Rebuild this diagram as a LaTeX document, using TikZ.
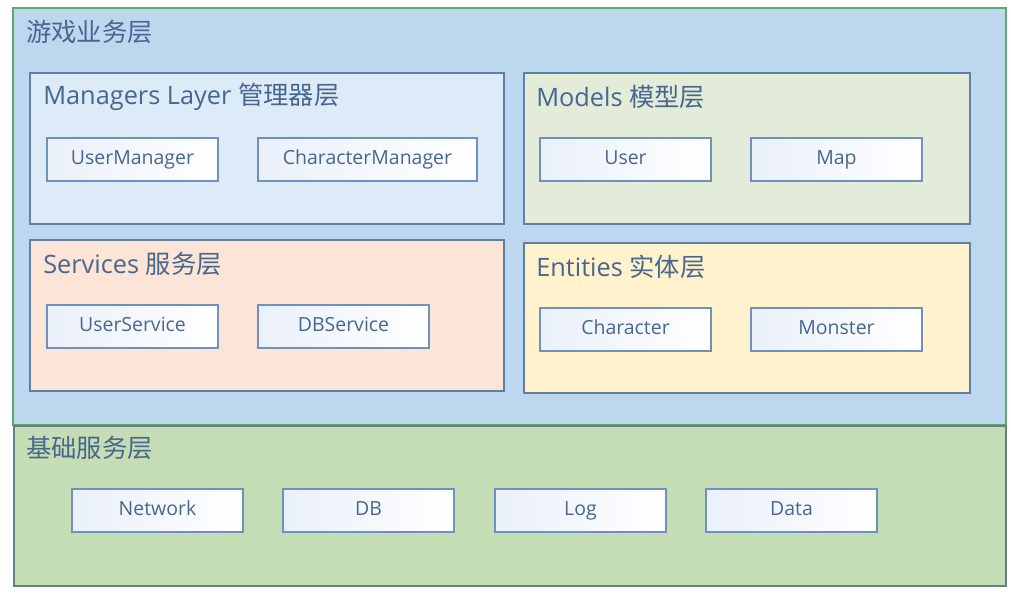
\documentclass[tikz,border=0pt]{standalone}
\usepackage{fontspec}
\setmainfont{Open Sans}
\newfontfamily\cjk{Noto Sans CJK SC}

\definecolor{txtblue}{RGB}{72,102,142}
\definecolor{gamefill}{RGB}{189,215,238}
\definecolor{gameline}{RGB}{96,168,104}
\definecolor{basefill}{RGB}{197,221,180}
\definecolor{baseline}{RGB}{98,128,140}
\definecolor{layerline}{RGB}{96,126,166}
\definecolor{mgrfill}{RGB}{221,234,247}
\definecolor{modelfill}{RGB}{226,236,216}
\definecolor{svcfill}{RGB}{252,228,214}
\definecolor{entfill}{RGB}{255,242,204}
\definecolor{unitline}{RGB}{112,144,190}
\definecolor{unitfill}{RGB}{234,240,250}

\begin{document}
\begin{tikzpicture}[x=0.75pt,y=-0.75pt,
  layer/.style={draw=layerline,line width=1pt},
  unit/.style={draw=unitline,line width=0.8pt,left color=unitfill,right color=white},
  title/.style={anchor=west,inner sep=0pt,text=txtblue,font=\fontsize{19}{22}\selectfont},
  label/.style={text=txtblue,text height=0.93em,text depth=0.2em,font=\fontsize{14.6}{17}\selectfont}]

\useasboundingbox (0,0) rectangle (1011,595);
\fill[white] (0,0) rectangle (1011,595);

%%%game layer
\draw[fill=gamefill,draw=gameline,line width=1.3pt] (13,8) rectangle (1006,425);
\node[title] (game) at (26,32) {\cjk 游戏业务层};

\draw[layer,fill=mgrfill] (30,73) rectangle (504,224);
\node[title] (mgr) at (43,97) {Managers Layer {\cjk 管理器层}};
\draw[unit] (47,138) rectangle (218,181);
\node[label] (usermgr) at (132.5,159.5) {UserManager};
\draw[unit] (258,138) rectangle (477,181);
\node[label] (charmgr) at (367.5,159.5) {CharacterManager};

\draw[layer,fill=modelfill] (524,73) rectangle (970,224);
\node[title] (models) at (536,97) {Models {\cjk 模型层}};
\draw[unit] (540,138) rectangle (711,181);
\node[label] (user) at (625.5,159.5) {User};
\draw[unit] (751,138) rectangle (922,181);
\node[label] (map) at (836.5,159.5) {Map};

\draw[layer,fill=svcfill] (30,240) rectangle (504,391);
\node[title] (svc) at (43,264) {Services {\cjk 服务层}};
\draw[unit] (47,305) rectangle (218,348);
\node[label] (usersvc) at (132.5,326.5) {UserService};
\draw[unit] (258,305) rectangle (429,348);
\node[label] (dbsvc) at (343.5,326.5) {DBService};

\draw[layer,fill=entfill] (524,243) rectangle (970,393);
\node[title] (ent) at (536,267) {Entities {\cjk 实体层}};
\draw[unit] (540,308) rectangle (711,351);
\node[label] (character) at (625.5,329.5) {Character};
\draw[unit] (751,308) rectangle (922,351);
\node[label] (monster) at (836.5,329.5) {Monster};

%%%base layer
\draw[fill=basefill,draw=baseline,line width=1pt] (14,426) rectangle (1006,586);
\node[title] (base) at (26,448) {\cjk 基础服务层};

\draw[unit] (72,489) rectangle (243,532);
\node[label] (net) at (157.5,510.5) {Network};
\draw[unit] (283,489) rectangle (454,532);
\node[label] (db) at (368.5,510.5) {DB};
\draw[unit] (495,489) rectangle (666,532);
\node[label] (log) at (580.5,510.5) {Log};
\draw[unit] (706,489) rectangle (877,532);
\node[label] (data) at (791.5,510.5) {Data};

\end{tikzpicture}
\end{document}
